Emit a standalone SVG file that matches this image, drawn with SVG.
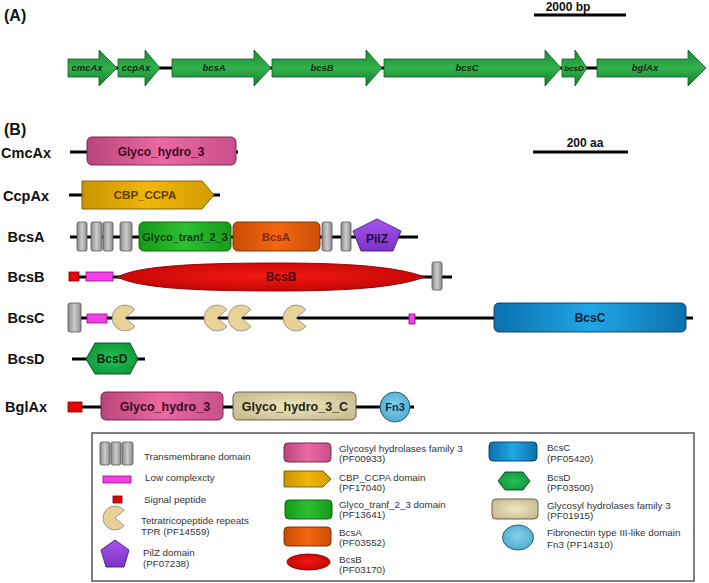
<svg xmlns="http://www.w3.org/2000/svg" width="709" height="583" viewBox="0 0 709 583">
<defs>
<linearGradient id="gArrow" x1="0" y1="0" x2="0" y2="1"><stop offset="0" stop-color="#1c8a32"/><stop offset="0.5" stop-color="#30b24c"/><stop offset="1" stop-color="#157a2a"/></linearGradient>
<linearGradient id="gPink" x1="0" y1="0" x2="1" y2="0"><stop offset="0" stop-color="#b8467a"/><stop offset="0.5" stop-color="#ec68a2"/><stop offset="1" stop-color="#c8508a"/></linearGradient>
<linearGradient id="gGold" x1="0" y1="0" x2="1" y2="0"><stop offset="0" stop-color="#c89400"/><stop offset="0.5" stop-color="#f2b60a"/><stop offset="1" stop-color="#d09c00"/></linearGradient>
<linearGradient id="gGreen" x1="0" y1="0" x2="1" y2="0"><stop offset="0" stop-color="#169a1a"/><stop offset="0.5" stop-color="#2cc032"/><stop offset="1" stop-color="#169a1a"/></linearGradient>
<linearGradient id="gOrange" x1="0" y1="0" x2="1" y2="0"><stop offset="0" stop-color="#c84c04"/><stop offset="0.5" stop-color="#f46612"/><stop offset="1" stop-color="#cc5006"/></linearGradient>
<radialGradient id="gRed" cx="0.5" cy="0.45" r="0.6"><stop offset="0" stop-color="#f41a14"/><stop offset="1" stop-color="#c00404"/></radialGradient>
<linearGradient id="gGrey" x1="0" y1="0" x2="1" y2="0"><stop offset="0" stop-color="#8a8a8a"/><stop offset="0.5" stop-color="#cccccc"/><stop offset="1" stop-color="#8a8a8a"/></linearGradient>
<linearGradient id="gBlue" x1="0" y1="0" x2="1" y2="0"><stop offset="0" stop-color="#0c70ae"/><stop offset="0.5" stop-color="#20a6e6"/><stop offset="1" stop-color="#0c70ae"/></linearGradient>
<radialGradient id="gBcsD" cx="0.5" cy="0.5" r="0.6"><stop offset="0" stop-color="#28c058"/><stop offset="1" stop-color="#0c9438"/></radialGradient>
<radialGradient id="gTan" cx="0.5" cy="0.5" r="0.6"><stop offset="0" stop-color="#f0e6c0"/><stop offset="1" stop-color="#c8bc92"/></radialGradient>
<radialGradient id="gFn3" cx="0.5" cy="0.45" r="0.6"><stop offset="0" stop-color="#86d2ec"/><stop offset="1" stop-color="#4ca8cc"/></radialGradient>
<linearGradient id="gPurple" x1="0" y1="0" x2="0" y2="1"><stop offset="0" stop-color="#a456ec"/><stop offset="1" stop-color="#7c32c8"/></linearGradient>
<style>
.lbl{font-family:"Liberation Sans",Arial,sans-serif;font-weight:bold;font-size:14.5px;fill:#111;text-anchor:middle}
.sec{font-family:"Liberation Sans",Arial,sans-serif;font-weight:bold;font-size:16px;fill:#111}
.gene{font-family:"Liberation Sans",Arial,sans-serif;font-weight:bold;font-style:italic;font-size:9.5px;fill:#0c2a10;text-anchor:middle}
.dom{font-family:"Liberation Sans",Arial,sans-serif;font-weight:bold;font-size:12px;text-anchor:middle}
.leg{font-family:"Liberation Sans",Arial,sans-serif;font-size:9.8px;fill:#333}
.scale{font-family:"Liberation Sans",Arial,sans-serif;font-weight:bold;font-size:12px;fill:#111;text-anchor:middle}
.bb{stroke:#000;stroke-width:3;fill:none}
.arrow{fill:url(#gArrow);stroke:#145a22;stroke-width:0.8}
.tm{fill:url(#gGrey);stroke:#555;stroke-width:0.8}
.mag{fill:#f43ee6;stroke:#8a1080;stroke-width:0.8}
.sig{fill:#e40606;stroke:#7a0000;stroke-width:0.8}
.tpr{fill:#e8d296;stroke:#888;stroke-width:0.8}
</style>
</defs>
<rect width="709" height="583" fill="#fff"/>

<!-- Section A -->
<text class="sec" x="4" y="21">(A)</text>
<g id="scale2000">
<text class="scale" x="568" y="11">2000 bp</text>
<line x1="534" y1="15" x2="626" y2="15" stroke="#000" stroke-width="3"/>
</g>
<g id="connectorsA">
<line class="bb" x1="110" y1="68" x2="600" y2="68"/>
</g>
<g id="cmcAx"><path class="arrow" d="M68,59 L99,59 L99,50 L117,68 L99,86 L99,77 L68,77 Z"/><text class="gene" x="87" y="71">cmcAx</text></g>
<g id="ccpAx"><path class="arrow" d="M118,59 L145,59 L145,50 L160,68 L145,86 L145,77 L118,77 Z"/><text class="gene" x="136" y="71">ccpAx</text></g>
<g id="bcsA"><path class="arrow" d="M172,59 L254,59 L254,50 L271,68 L254,86 L254,77 L172,77 Z"/><text class="gene" x="214" y="71">bcsA</text></g>
<g id="bcsB"><path class="arrow" d="M272,59 L366,59 L366,50 L382,68 L366,86 L366,77 L272,77 Z"/><text class="gene" x="322" y="71">bcsB</text></g>
<g id="bcsC"><path class="arrow" d="M384,59 L545,59 L545,50 L561,68 L545,86 L545,77 L384,77 Z"/><text class="gene" x="467" y="71">bcsC</text></g>
<g id="bcsD"><path class="arrow" d="M562,59 L575,59 L575,50 L587,68 L575,86 L575,77 L562,77 Z"/><text class="gene" x="574" y="71" style="font-size:8px">bcsD</text></g>
<g id="bglAx"><path class="arrow" d="M597,59 L688,59 L688,50 L706,68 L688,86 L688,77 L597,77 Z"/><text class="gene" x="645" y="71">bglAx</text></g>

<!-- Section B -->
<text class="sec" x="4" y="135">(B)</text>
<g id="scale200">
<text class="scale" x="585" y="147">200  aa</text>
<line x1="533" y1="152" x2="628" y2="152" stroke="#000" stroke-width="3"/>
</g>

<g id="backbones">
<line class="bb" x1="70" y1="152" x2="238" y2="152"/>
<line class="bb" x1="69" y1="195" x2="220" y2="195"/>
<line class="bb" x1="70" y1="237" x2="418" y2="237"/>
<line class="bb" x1="76" y1="277" x2="452" y2="277"/>
<line class="bb" x1="76" y1="318" x2="693" y2="318"/>
<line class="bb" x1="72" y1="359" x2="145" y2="359"/>
<line class="bb" x1="76" y1="407" x2="414" y2="407"/>
</g>

<g id="CmcAx">
<text class="lbl" x="26" y="158">CmcAx</text>
<rect x="87" y="137" width="149" height="28" rx="5" fill="url(#gPink)" stroke="#6a2040" stroke-width="0.9"/>
<text class="dom" x="161" y="156" fill="#3a0a22">Glyco_hydro_3</text>
</g>

<g id="CcpAx">
<text class="lbl" x="26" y="201">CcpAx</text>
<path d="M82,181 L202,181 L214,195 L202,209 L82,209 Z" fill="url(#gGold)" stroke="#7a5600" stroke-width="0.9"/>
<text class="dom" x="145" y="199" fill="#5a3c00" style="font-size:11.5px">CBP_CCPA</text>
</g>

<g id="BcsA">
<text class="lbl" x="26" y="242">BcsA</text>
<rect class="tm" x="77" y="222" width="10" height="29" rx="2"/>
<rect class="tm" x="91" y="222" width="11" height="29" rx="2"/>
<rect class="tm" x="103" y="222" width="10" height="29" rx="2"/>
<rect class="tm" x="120" y="222" width="12" height="29" rx="2"/>
<rect x="139" y="222" width="92" height="29" rx="5" fill="url(#gGreen)" stroke="#0a5a0a" stroke-width="0.9"/>
<text class="dom" x="185" y="241" fill="#0c3a0c" style="font-size:11px">Glyco_tranf_2_3</text>
<rect x="233" y="222" width="87" height="29" rx="5" fill="url(#gOrange)" stroke="#6a2c00" stroke-width="0.9"/>
<text class="dom" x="276" y="241" fill="#7a3000" style="font-size:11px">BcsA</text>
<rect class="tm" x="322" y="222" width="10" height="29" rx="2"/>
<rect class="tm" x="341" y="222" width="10" height="29" rx="2"/>
<path d="M377,219 L401,231 L393,251 L361,251 L353,231 Z" fill="url(#gPurple)" stroke="#4a1a80" stroke-width="0.9"/>
<text class="dom" x="377" y="243" fill="#240a48">PilZ</text>
</g>

<g id="BcsB">
<text class="lbl" x="26" y="282">BcsB</text>
<rect class="sig" x="69" y="272" width="10" height="9"/>
<rect class="mag" x="86" y="272" width="27" height="9"/>
<path d="M117,277 C140,266 190,263 280,263 C360,263 400,268 425,277 C400,286 360,291 280,291 C190,291 140,288 117,277 Z" fill="url(#gRed)" stroke="#8a0000" stroke-width="0.9"/>
<text class="dom" x="281" y="281" fill="#4a0000">BcsB</text>
<rect class="tm" x="432" y="262" width="10" height="28" rx="2"/>
</g>

<g id="BcsC">
<text class="lbl" x="26" y="323">BcsC</text>
<rect class="tm" x="68" y="303" width="13" height="29" rx="2"/>
<rect class="mag" x="87" y="314" width="20" height="9"/>
<path class="tpr" d="M125,318 L135,309.6 A13,13 0 1 0 135,326.4 Z"/>
<path class="tpr" d="M217,318 L227,309.6 A13,13 0 1 0 227,326.4 Z"/>
<path class="tpr" d="M241,318 L251,309.6 A13,13 0 1 0 251,326.4 Z"/>
<path class="tpr" d="M296,318 L306,309.6 A13,13 0 1 0 306,326.4 Z"/>
<rect class="mag" x="409" y="314" width="6" height="10"/>
<rect x="494" y="303" width="192" height="29" rx="5" fill="url(#gBlue)" stroke="#0a3a5a" stroke-width="0.9"/>
<text class="dom" x="590" y="322" fill="#0a2236">BcsC</text>
</g>

<g id="BcsD">
<text class="lbl" x="26" y="364">BcsD</text>
<path d="M86,359 L95,343 L130,343 L138,359 L130,374 L95,374 Z" fill="url(#gBcsD)" stroke="#0a4a1c" stroke-width="0.9"/>
<text class="dom" x="112" y="363" fill="#04280e">BcsD</text>
</g>

<g id="BglAx">
<text class="lbl" x="26" y="412">BglAx</text>
<rect class="sig" x="68" y="402" width="14" height="10"/>
<rect x="101" y="392" width="122" height="28" rx="5" fill="url(#gPink)" stroke="#6a2040" stroke-width="0.9"/>
<text class="dom" x="165" y="411" fill="#3a0a22" style="font-size:12.5px">Glyco_hydro_3</text>
<rect x="233" y="392" width="123" height="28" rx="5" fill="url(#gTan)" stroke="#5a5438" stroke-width="0.9"/>
<text class="dom" x="295" y="411" fill="#24240e" style="font-size:12.5px">Glyco_hydro_3_C</text>
<circle cx="395" cy="407" r="15" fill="url(#gFn3)" stroke="#1a5070" stroke-width="0.9"/>
<text class="dom" x="395" y="411" fill="#0a2a40" style="font-size:11px">Fn3</text>
</g>

<!-- Legend -->
<g id="legend">
<rect x="92" y="433" width="602" height="148" fill="#fff" stroke="#555" stroke-width="1.5"/>
<rect class="tm" x="100" y="442" width="10" height="23" rx="2"/>
<rect class="tm" x="111" y="442" width="10" height="23" rx="2"/>
<rect class="tm" x="122" y="442" width="11" height="23" rx="2"/>
<text class="leg" x="144" y="460">Transmembrane domain</text>
<rect class="mag" x="103" y="476" width="28" height="7"/>
<text class="leg" x="145" y="481">Low complexcty</text>
<rect class="sig" x="113" y="496" width="9" height="7"/>
<text class="leg" x="144" y="503">Signal peptide</text>
<path class="tpr" d="M115,518 L124.2,510.3 A12,12 0 1 0 124.2,525.7 Z"/>
<text class="leg" x="141" y="524">Tetratricopeptide repeats</text>
<text class="leg" x="141" y="535">TPR (PF14559)</text>
<path d="M115,540 L129,550 L124,567 L106,567 L101,550 Z" fill="url(#gPurple)" stroke="#4a1a80" stroke-width="0.9"/>
<text class="leg" x="143" y="556">PilZ domain</text>
<text class="leg" x="143" y="567">(PF07238)</text>

<rect x="284" y="443" width="47" height="19" rx="4" fill="url(#gPink)" stroke="#6a2040" stroke-width="0.9"/>
<text class="leg" x="339" y="452">Glycosyl hydrolases family 3</text>
<text class="leg" x="339" y="462">(PF00933)</text>
<path d="M284,471 L323,471 L331,479 L323,487 L284,487 Z" fill="url(#gGold)" stroke="#7a5600" stroke-width="0.9"/>
<text class="leg" x="339" y="481">CBP_CCPA domain</text>
<text class="leg" x="339" y="491">(PF17040)</text>
<rect x="285" y="500" width="47" height="19" rx="4" fill="url(#gGreen)" stroke="#0a5a0a" stroke-width="0.9"/>
<text class="leg" x="339" y="508">Glyco_tranf_2_3 domain</text>
<text class="leg" x="339" y="518">(PF13641)</text>
<rect x="284" y="527" width="47" height="19" rx="4" fill="url(#gOrange)" stroke="#6a2c00" stroke-width="0.9"/>
<text class="leg" x="339" y="536">BcsA</text>
<text class="leg" x="339" y="546">(PF03552)</text>
<ellipse cx="308.5" cy="562" rx="21.5" ry="8" fill="url(#gRed)" stroke="#8a0000" stroke-width="0.9"/>
<text class="leg" x="339" y="563">BcsB</text>
<text class="leg" x="339" y="573">(PF03170)</text>

<rect x="489" y="442" width="48" height="19" rx="4" fill="url(#gBlue)" stroke="#0a3a5a" stroke-width="0.9"/>
<text class="leg" x="547" y="451">BcsC</text>
<text class="leg" x="547" y="462">(PF05420)</text>
<path d="M498,481 L505,472 L523,472 L530,481 L523,490 L505,490 Z" fill="url(#gBcsD)" stroke="#0a4a1c" stroke-width="0.9"/>
<text class="leg" x="547" y="481">BcsD</text>
<text class="leg" x="547" y="491">(PF03500)</text>
<rect x="492" y="499" width="46" height="20" rx="4" fill="url(#gTan)" stroke="#5a5438" stroke-width="0.9"/>
<text class="leg" x="547" y="509">Glycosyl hydrolases family 3</text>
<text class="leg" x="547" y="519">(PF01915)</text>
<ellipse cx="518" cy="537.5" rx="15.5" ry="12.5" fill="url(#gFn3)" stroke="#1a5070" stroke-width="0.9"/>
<text class="leg" x="547" y="536">Fibronectin type III-like domain</text>
<text class="leg" x="547" y="548">Fn3 (PF14310)</text>
</g>
</svg>
